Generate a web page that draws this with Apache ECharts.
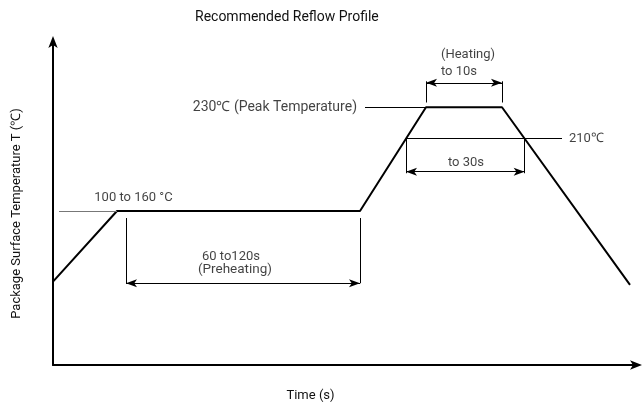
<!DOCTYPE html>
<html>
<head>
<meta charset="utf-8">
<script src="https://cdn.jsdelivr.net/npm/echarts@6/dist/echarts.min.js"></script>
<style>
  html, body { margin: 0; padding: 0; background: #fff; }
  #chart { width: 642px; height: 407px; }
</style>
</head>
<body>
<div id="chart"></div>
<script>
// Reflow profile (schematic): time in s, temperature in °C
const times = [0, 32, 153.5, 186.5, 224.5, 288.5];
const temps = [119, 164, 164, 230, 230, 117];

// Reference levels
const peakTemp = 230;
const reflowTemp = 210;
const preheatTemp = 164;

// Text
const titleText = 'Recommended Reflow Profile';
const xName = 'Time (s)';
const yName = 'Package Surface Temperature T (\u2103)';
const peakLabel = '230\u2103 (Peak Temperature)';
const reflowLabel = '210\u2103';
const preheatRangeLabel = '100 to 160 \u00b0C';
const heatingLabel = ['(Heating)', 'to 10s'];
const reflowTimeLabel = 'to 30s';
const preheatTimeLabel = ['60 to120s', '(Preheating)'];

const FONT = "'Liberation Sans Narrow', Roboto, sans-serif";

// time where a sloped segment crosses a temperature level
function crossing(i, level) {
  const t0 = times[i], t1 = times[i + 1], v0 = temps[i], v1 = temps[i + 1];
  return t0 + (level - v0) / (v1 - v0) * (t1 - t0);
}
const riseCross = crossing(2, reflowTemp);
const fallCross = crossing(4, reflowTemp);

const ARROW = { symbol: 'arrow', symbolSize: [6, 11] };
const NONE = { symbol: 'none' };

function seg(x1, y1, x2, y2, s1, s2, style) {
  return [
    Object.assign({ coord: [x1, y1] }, s1 || NONE),
    Object.assign({ coord: [x2, y2] }, s2 || NONE, style ? { lineStyle: style } : {})
  ];
}

const marks = [
  // leaders
  seg(156, peakTemp, times[3], peakTemp),
  seg(riseCross, reflowTemp, 254.5, reflowTemp),
  seg(3, preheatTemp, times[1], preheatTemp, null, null, { color: '#777' }),
  // heating window
  seg(times[3], 233, times[3], 246.5),
  seg(times[4], 233, times[4], 246.5),
  seg(times[3], 245.5, times[4], 245.5, ARROW, ARROW),
  // time above 210
  seg(riseCross, reflowTemp, riseCross, 188),
  seg(fallCross, reflowTemp, fallCross, 188),
  seg(riseCross, 189, fallCross, 189, ARROW, ARROW),
  // preheat window
  seg(36.5, 159.5, 36.5, 118),
  seg(times[2], 159.5, times[2], 118),
  seg(36.5, 118, times[2], 118, ARROW, ARROW)
];

function note(x, y, text, align, size) {
  const label = { formatter: text, align: align || 'center' };
  if (size) label.fontSize = size;
  return { value: [x, y], label: label };
}

const notes = [
  note(207.5, 263.4, heatingLabel[0]),
  note(203, 252.7, heatingLabel[1]),
  note(152, peakTemp, peakLabel, 'right', 14),
  note(258, reflowTemp, reflowLabel, 'left'),
  note(206.5, 194.4, reflowTimeLabel),
  note(40.25, 172.5, preheatRangeLabel),
  note(89, 134.9, preheatTimeLabel[0]),
  note(91, 126.8, preheatTimeLabel[1], 'center', 13.5)
];

const chart = echarts.init(document.getElementById('chart'), null, { renderer: 'canvas' });
chart.setOption({
  animation: false,
  backgroundColor: '#fff',
  title: {
    text: titleText,
    left: 195,
    top: 10,
    padding: 0,
    textStyle: { fontFamily: FONT, fontSize: 14, fontWeight: 'normal', color: '#111' }
  },
  grid: { left: 53, right: 6, top: 42, bottom: 37 },
  xAxis: {
    type: 'value',
    min: 0,
    max: 291.5,
    name: xName,
    nameLocation: 'middle',
    nameGap: 24,
    nameTextStyle: { fontFamily: FONT, fontSize: 13, color: '#111', padding: [0, 68, 0, 0] },
    axisLine: { lineStyle: { color: '#000', width: 2 }, symbol: ['none', 'arrow'], symbolSize: [7, 12], symbolOffset: [0, 6] },
    axisTick: { show: false },
    axisLabel: { show: false },
    splitLine: { show: false }
  },
  yAxis: {
    type: 'value',
    min: 66,
    max: 271.5,
    name: yName,
    nameLocation: 'middle',
    nameGap: 30,
    nameTextStyle: { fontFamily: FONT, fontSize: 13, color: '#111', padding: [0, 0, 0, -20] },
    axisLine: { lineStyle: { color: '#000', width: 2 }, symbol: ['none', 'arrow'], symbolSize: [7, 12], symbolOffset: [0, 6] },
    axisTick: { show: false },
    axisLabel: { show: false },
    splitLine: { show: false }
  },
  series: [
    {
      type: 'line',
      data: times.map((t, i) => [t, temps[i]]),
      symbol: 'none',
      silent: true,
      lineStyle: { color: '#000', width: 2 },
      markLine: {
        silent: true,
        symbol: ['none', 'none'],
        label: { show: false },
        lineStyle: { color: '#000', width: 1, type: 'solid' },
        emphasis: { disabled: true },
        data: marks
      }
    },
    {
      type: 'scatter',
      symbolSize: 0,
      silent: true,
      data: notes,
      label: {
        show: true,
        position: 'inside',
        verticalAlign: 'middle',
        fontFamily: FONT,
        fontSize: 13,
        color: '#111'
      }
    }
  ]
});
</script>
</body>
</html>
